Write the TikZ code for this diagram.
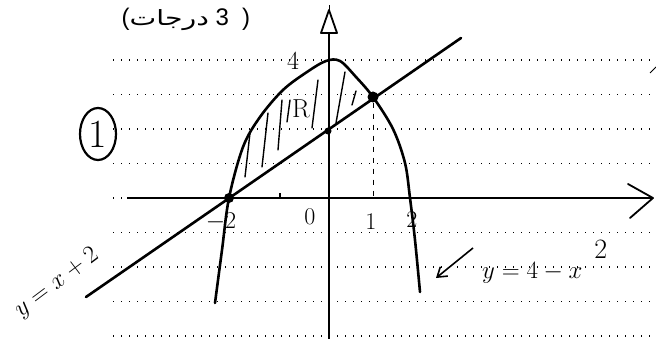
\documentclass[tikz,border=0pt]{standalone}
\usepackage{fontspec}
\newfontfamily\arabicfont[Script=Arabic,FakeStretch=1.35]{DejaVu Sans}
\newfontfamily\plainsans{Liberation Sans}
\TeXXeTstate=1
\usetikzlibrary{arrows.meta,shapes.geometric}
\begin{document}
\begin{tikzpicture}[x=1pt,y=-1pt,
  guide/.style={line width=1.6pt, dash pattern=on 1.4pt off 6.6pt},
  curve/.style={line width=2.6pt, line join=round, line cap=round},
  axisline/.style={line width=1.8pt},
  hatch/.style={line width=1.4pt, line cap=round},
  dotmark/.style={circle, fill=black, inner sep=0pt, minimum size=#1},
  hand/.style={font=\fontsize{#1}{#1}\selectfont, inner sep=0pt},
]
\useasboundingbox (0,0) rectangle (656,339);
% ruled dotted lines
\foreach \yy in {60,94.5,129,163.5,198,232.5,267,301.5,336}
  \draw[guide] (113,\yy) -- (656,\yy);
% axes
\coordinate (xs) at (127,198);
\coordinate (xe) at (653,198);
\draw[axisline] (xs) -- (xe);
\draw[axisline, line join=round, line cap=round] (628,184) -- (xe) -- (630,218);
\coordinate (ys) at (329,339);
\coordinate (ye) at (329,33);
\draw[axisline] (ys) -- (ye);
\draw[axisline, line join=round] (321,33) -- (329,10) -- (337,33) -- cycle;
\draw[line width=1pt] (329,10) -- (329,5);
% parabola
\draw[curve] plot[smooth, tension=0.55] coordinates {(215,303) (222,250) (229,198) (243,147) (260,117) (283,90) (307,72) (326,61) (340,61) (356,77) (373,97) (393,129) (405,163) (410,198) (415,240) (420,292)};
% line y=x+2
\coordinate (la) at (86,297);
\coordinate (lb) at (461,38);
\draw[curve] (la) -- (lb);
% intersection points
\node[dotmark=10pt] (A) at (229,198) {};
\node[dotmark=11pt] (B) at (373,97) {};
\node[dotmark=7pt] (C) at (328,131) {};
\coordinate (Bx) at (373,198);
\draw[line width=1pt, dash pattern=on 5pt off 6pt] (B) -- (Bx);
% hatching
\draw[hatch] (250,133) -- (245,177);
\draw[hatch] (268,113) -- (262,167);
\draw[hatch] (282,100) -- (278,150);
\draw[hatch] (290,100) -- (287,122);
\draw[hatch] (318,80) -- (312,128);
\draw[hatch] (345,72) -- (336,123);
\draw[hatch] (356,91) -- (352,105);
% small tick
\draw[line width=1.2pt] (280,193) -- (280,198);
% stray mark
\draw[line width=1pt] (650,73) -- (656,67);
% labels
\node[inner sep=0pt, font=\fontsize{24}{24}\selectfont] (title) at (186,19)
  {{\plainsans(}{\arabicfont\fontsize{21}{21}\selectfont\beginR درجات\endR}{\plainsans\ 3 \ )}};
\node[hand=26] (l4) at (293,61) {4};
\node[hand=26] (lR) at (301,109) {R};
\node[hand=24] (l0) at (310,217) {0};
\node[hand=24] (lm2) at (221,222) {$-$2};
\node[hand=24] (l1) at (371,222) {1};
\node[hand=24] (l2) at (412,220) {2};
% circled 1
\node[draw, ellipse, line width=2.2pt, minimum width=36pt, minimum height=52pt, hand=40] (one) at (98,134) {1};
% label y = 4 - x^2
\node[hand=39, anchor=west] (ly) at (482,262) {$y=4-x$\hspace{12pt}\raisebox{20pt}{\fontsize{28}{28}\selectfont 2}};
\coordinate (arA) at (473,248);
\coordinate (arB) at (436,278);
\draw[line width=1.6pt, -{Straight Barb[length=9pt,width=12pt]}] (arA) -- (arB);
% label y = x + 2
\node[hand=34, rotate=37] (lx) at (57,283) {$y=x+2$};
\end{tikzpicture}
\end{document}
